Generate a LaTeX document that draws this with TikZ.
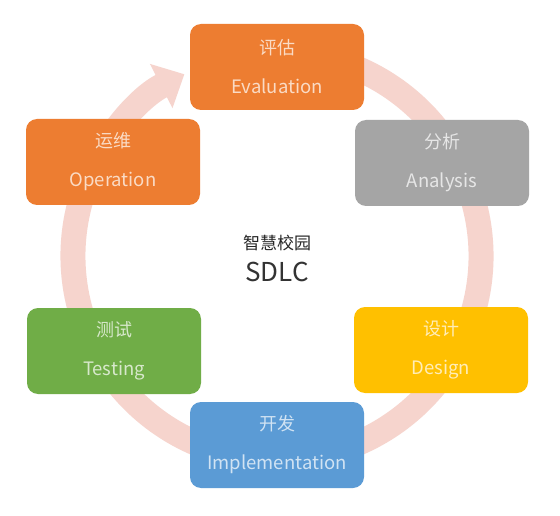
\documentclass[tikz,border=0pt]{standalone}
\usepackage{fontspec}
\setmainfont{Noto Sans CJK SC}
\newfontfamily\cjk{Noto Sans CJK SC}
\usetikzlibrary{arrows.meta,calc}
\definecolor{ringc}{HTML}{F6D4CD}
\definecolor{orangec}{HTML}{ED7D31}
\definecolor{grayc}{HTML}{A5A5A5}
\definecolor{yellowc}{HTML}{FFC000}
\definecolor{bluec}{HTML}{5B9BD5}
\definecolor{greenc}{HTML}{70AD47}
\tikzset{
  stagebox/.style={rounded corners=11pt, minimum width=174pt, minimum height=86pt,
    inner sep=0pt, align=center, fill=#1, text=white!72!#1,
    font=\fontsize{18}{39}\selectfont},
  ringline/.style={draw=ringc, line width=25pt}
}
\newcommand{\stagetext}[2]{{\cjk #1}\\{\fontsize{18.5}{39}\selectfont #2}}
\begin{document}
\begin{tikzpicture}[x=1pt,y=-1pt]
\useasboundingbox[fill=white] (0,0) rectangle (560,516);
\coordinate (c) at (277,256);
\coordinate (ringstart) at ($(c)+(-70:204)$);
\draw[ringline, -{Triangle[width=48pt,length=26pt]}] (ringstart) arc[start angle=-70, end angle=243, radius=204];
\node[stagebox=orangec] (eval) at (277,67) {\stagetext{评估}{Evaluation}};
\node[stagebox=grayc] (anal) at (442,163) {\stagetext{分析}{Analysis}};
\node[stagebox=yellowc] (design) at (441,350) {\stagetext{设计}{Design}};
\node[stagebox=bluec] (impl) at (277,445) {\stagetext{开发}{Implementation}};
\node[stagebox=greenc] (test) at (114,351) {\stagetext{测试}{Testing}};
\node[stagebox=orangec] (oper) at (113,162) {\stagetext{运维}{Operation}};
\node[font=\cjk\fontsize{17}{20}\selectfont, text=black!85] (title) at (277,243) {智慧校园};
\node[font=\fontsize{26}{30}\selectfont, text=black!80] (sdlc) at (277,272) {SDLC};
\end{tikzpicture}
\end{document}
